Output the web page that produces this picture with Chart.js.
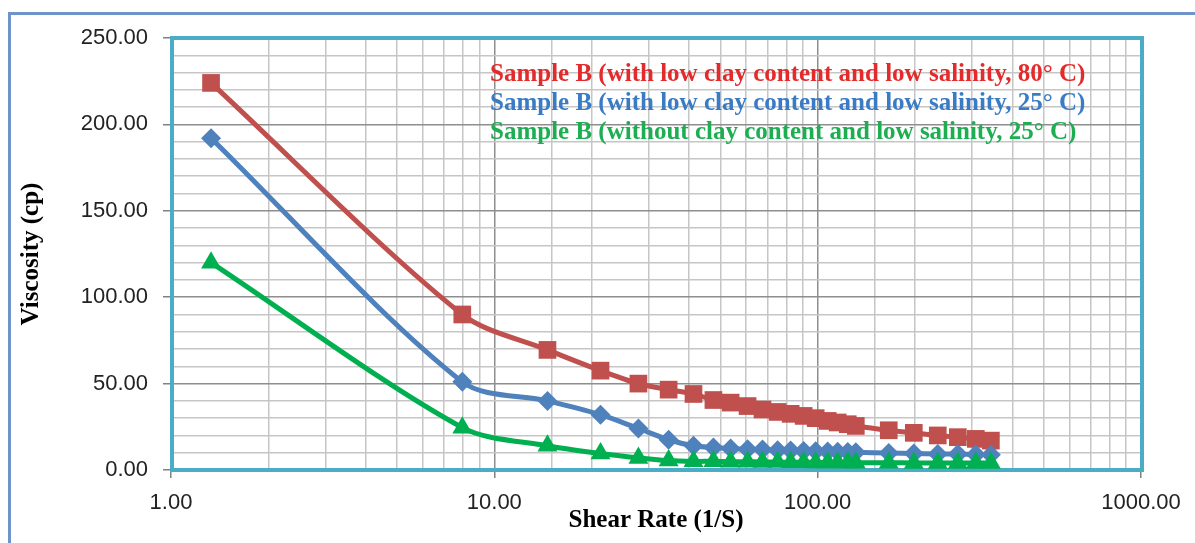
<!DOCTYPE html>
<html>
<head>
<meta charset="utf-8">
<script src="https://cdn.jsdelivr.net/npm/chart.js@4.4.0/dist/chart.umd.min.js"></script>
<style>
  html, body { margin: 0; padding: 0; background: #fff; }
  #wrap { width: 1195px; height: 543px; }
</style>
</head>
<body>
<div id="wrap"><canvas id="chart" width="1195" height="543"></canvas></div>
<script>
// data
const shearRate = [1.33, 7.96, 14.6, 21.3, 27.9, 34.6, 41.3, 47.6, 53.8, 60.7, 67.5, 75.2, 82.5, 90.5, 98.6, 107.4, 115.3, 123.9, 131.2, 165.9, 198.3, 235.2, 271.3, 308.4, 343.3];
const visc80Clay = [224, 90, 69.5, 57.5, 50, 46.5, 44, 40.5, 39, 37, 35, 33.6, 32.5, 31.3, 30, 28.4, 27.5, 26.5, 25.5, 23, 21.5, 20, 19, 18, 17];
const visc25Clay = [192, 51, 40, 32, 24, 17.5, 14, 13, 12.5, 12, 11.8, 11.5, 11.3, 11, 10.8, 10.7, 10.5, 10.4, 10.3, 9.8, 9.5, 9.3, 9.2, 9, 8.8];
const visc25NoClay = [120, 24.5, 14, 9.5, 7, 5.5, 5, 5, 4.8, 4.8, 4.7, 4.6, 4.5, 4.5, 4.4, 4.4, 4.3, 4.3, 4.2, 4.2, 4.1, 4.1, 4, 4, 4];
const seriesLabels = [
  "Sample B (with low clay content and low salinity, 80° C)",
  "Sample B (with low clay content and low salinity, 25° C)",
  "Sample B (without clay content and low salinity, 25° C)"
];
const legendColors = ["#E42A2A", "#3A7BC6", "#1DAE52"];

function toPoints(ys) {
  return ys.map((y, i) => ({ x: shearRate[i], y: y }));
}

// outer frame + white background
const framePlugin = {
  id: "frame",
  beforeDraw(chart) {
    const ctx = chart.ctx;
    ctx.save();
    ctx.fillStyle = "#fff";
    ctx.fillRect(0, 0, chart.width, chart.height);
    ctx.strokeStyle = "#6F94C9";
    ctx.lineWidth = 3;
    ctx.beginPath();
    ctx.moveTo(9.5, chart.height);
    ctx.lineTo(9.5, 13.5);
    ctx.lineTo(chart.width, 13.5);
    ctx.stroke();
    ctx.restore();
  },
  beforeDatasetsDraw(chart) {
    const a = chart.chartArea;
    const ctx = chart.ctx;
    ctx.save();
    ctx.strokeStyle = "#4BACC6";
    ctx.lineWidth = 4;
    ctx.strokeRect(a.left + 1, a.top, a.right - a.left, a.bottom - a.top);
    ctx.restore();
  }
};

// legend as plain coloured text inside the plot
const textLegend = {
  id: "textLegend",
  afterDatasetsDraw(chart) {
    const a = chart.chartArea;
    const ctx = chart.ctx;
    ctx.save();
    ctx.font = "bold 25px 'Liberation Serif'";
    ctx.textAlign = "left";
    ctx.textBaseline = "middle";
    chart.data.datasets.forEach((ds, i) => {
      ctx.fillStyle = legendColors[i];
      ctx.fillText(ds.label, a.left + 319, a.top + 37 + i * 29);
    });
    ctx.restore();
  }
};

const ctx = document.getElementById("chart");

new Chart(ctx, {
  type: "line",
  data: {
    datasets: [
      {
        label: seriesLabels[0],
        data: toPoints(visc80Clay),
        borderColor: "#C0504D",
        backgroundColor: "#C0504D",
        borderWidth: 5,
        pointStyle: "rect",
        pointRadius: 12.5,
        pointBorderWidth: 0,
        tension: 0.3,
        order: 2
      },
      {
        label: seriesLabels[1],
        data: toPoints(visc25Clay),
        borderColor: "#4F81BD",
        backgroundColor: "#4F81BD",
        borderWidth: 5,
        pointStyle: "rectRot",
        pointRadius: 10,
        pointBorderWidth: 0,
        tension: 0.3,
        order: 1
      },
      {
        label: seriesLabels[2],
        data: toPoints(visc25NoClay),
        borderColor: "#00B050",
        backgroundColor: "#00B050",
        borderWidth: 5,
        pointStyle: "triangle",
        pointRadius: 11.5,
        pointBorderWidth: 0,
        tension: 0.3,
        order: 0
      }
    ]
  },
  options: {
    responsive: false,
    animation: false,
    devicePixelRatio: 1,
    events: [],
    layout: { padding: { left: 0, top: 38, right: 54, bottom: 0 } },
    plugins: {
      legend: { display: false },
      tooltip: { enabled: false }
    },
    scales: {
      x: {
        type: "logarithmic",
        min: 1,
        max: 1000,
        border: { display: false },
        afterFit: s => { s.height = 73; },
        grid: {
          color: c => Number.isInteger(Math.log10(c.tick.value)) ? "#8E8E8E" : "#C6C6C6",
          tickColor: c => Number.isInteger(Math.log10(c.tick.value)) ? "#808080" : "rgba(0,0,0,0)",
          lineWidth: 1.5,
          tickLength: 8
        },
        ticks: {
          autoSkip: false,
          maxRotation: 0,
          padding: 12,
          color: "#222",
          font: { family: "'Liberation Sans'", size: 22 },
          callback: v => Number.isInteger(Math.log10(v)) ? v.toFixed(2) : ""
        },
        title: {
          display: true,
          text: "Shear Rate (1/S)",
          color: "#000",
          font: { family: "'Liberation Serif'", size: 25, weight: "bold" },
          padding: { top: 0, bottom: 7 }
        }
      },
      y: {
        min: 0,
        max: 250,
        border: { display: false },
        afterFit: s => { s.width = 171; },
        grid: {
          color: c => c.tick.value % 50 === 0 ? "#8E8E8E" : "#C6C6C6",
          tickColor: c => c.tick.value % 50 === 0 ? "#808080" : "rgba(0,0,0,0)",
          lineWidth: 1.5,
          tickLength: 8
        },
        ticks: {
          stepSize: 10,
          autoSkip: false,
          padding: 15,
          color: "#222",
          font: { family: "'Liberation Sans'", size: 22 },
          callback: v => v % 50 === 0 ? v.toFixed(2) : ""
        },
        title: {
          display: true,
          text: "Viscosity (cp)",
          color: "#000",
          font: { family: "'Liberation Serif'", size: 25, weight: "bold" },
          padding: { top: 17, bottom: 0 }
        }
      }
    }
  },
  plugins: [framePlugin, textLegend]
});
</script>
</body>
</html>
